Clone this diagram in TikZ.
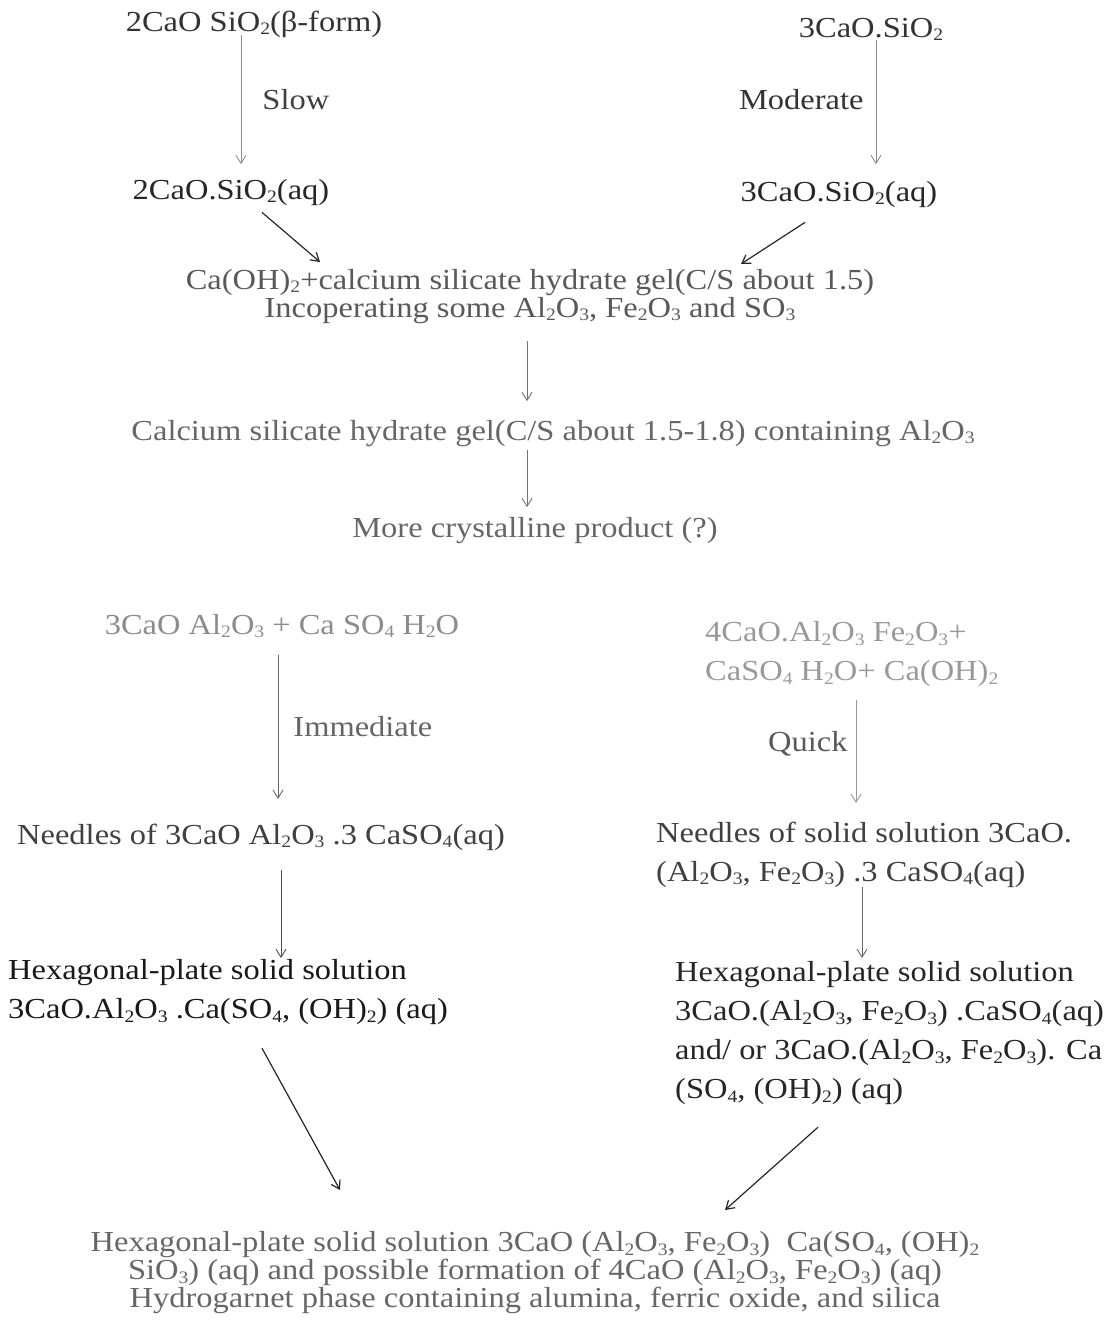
\documentclass[tikz,border=0pt]{standalone}
\usepackage{fontspec}
\setmainfont{Liberation Serif}[FakeStretch=1.12]
\usepackage{tikz}
\usetikzlibrary{arrows.meta,positioning}

\newcommand{\low}[1]{\raisebox{-3.5pt}{\fontsize{17.5}{17.5}\selectfont #1}}

\begin{document}
\begin{tikzpicture}[x=1pt,y=-1pt,>={Straight Barb[length=8pt,width=10pt]}]
	\useasboundingbox (0,0) rectangle (1113,1320);
	\tikzset{every node/.style={inner sep=0pt,font=\fontsize{29}{28}\selectfont}}
	\tikzset{wide/.style={font=\fontsize{29}{39}\selectfont}}
	\tikzset{flow/.style={->,draw=black!45,line width=0.9pt}}
	\tikzset{react/.style={->,draw=black!85,line width=1.2pt}}
	
	% silicates
	\node[anchor=base,text=black!80] (c2s) at (254,31) {2CaO SiO\low{2}(β-form)};
	\node[anchor=base,text=black!80] (c3s) at (871,37) {3CaO.SiO\low{2}};
	\node[anchor=base,text=black!85] (c2saq) at (231,199) {2CaO.SiO\low{2}(aq)};
	\node[anchor=base,text=black!85] (c3saq) at (839,201) {3CaO.SiO\low{2}(aq)};
	\node[anchor=north,align=center,text=black!65] (gel) at (530,269) {Ca(OH)\low{2}+calcium silicate hydrate gel(C/S about 1.5)\\Incoperating some Al\low{2}O\low{3}, Fe\low{2}O\low{3} and SO\low{3}};
	\node[anchor=base,text=black!60] (csh) at (553,440) {Calcium silicate hydrate gel(C/S about 1.5-1.8) containing Al\low{2}O\low{3}};
	\node[anchor=base,text=black!60] (more) at (535,537) {More crystalline product (?)};
	
	% aluminates
	\node[anchor=base,text=black!45] (c3a) at (282,634) {3CaO Al\low{2}O\low{3} + Ca SO\low{4} H\low{2}O};
	\node[anchor=north west,align=left,wide,text=black!40] (c4af) at (705,621.5) {4CaO.Al\low{2}O\low{3} Fe\low{2}O\low{3}+\\CaSO\low{4} H\low{2}O+ Ca(OH)\low{2}};
	\node[anchor=base,text=black!75] (ettr) at (261,844) {Needles of 3CaO Al\low{2}O\low{3} .3 CaSO\low{4}(aq)};
	\node[anchor=north west,align=left,wide,text=black!75] (ssettr) at (656,821.5) {Needles of solid solution 3CaO.\\(Al\low{2}O\low{3}, Fe\low{2}O\low{3}) .3 CaSO\low{4}(aq)};
	\node[anchor=north west,align=left,wide,text=black!90] (hexl) at (8,959.5) {Hexagonal-plate solid solution\\3CaO.Al\low{2}O\low{3} .Ca(SO\low{4}, (OH)\low{2}) (aq)};
	\node[anchor=north west,align=left,wide,text=black!85] (hexr) at (675,961.5) {Hexagonal-plate solid solution\\3CaO.(Al\low{2}O\low{3}, Fe\low{2}O\low{3}) .CaSO\low{4}(aq)\\and/ or 3CaO.(Al\low{2}O\low{3}, Fe\low{2}O\low{3}). Ca\\(SO\low{4}, (OH)\low{2}) (aq)};
	\node[anchor=north,align=center,text=black!60] (bot) at (535,1231.5) {Hexagonal-plate solid solution 3CaO (Al\low{2}O\low{3}, Fe\low{2}O\low{3})\ \ Ca(SO\low{4}, (OH)\low{2}\\SiO\low{3}) (aq) and possible formation of 4CaO (Al\low{2}O\low{3}, Fe\low{2}O\low{3}) (aq)\\Hydrogarnet phase containing alumina, ferric oxide, and silica};
	
	\path
	([xshift=-13pt,yshift=2pt]c2s.south) edge[flow] node[anchor=west,xshift=21pt,text=black!75] {Slow} ([xshift=10pt,yshift=14.5pt]c2saq.north)
	([xshift=5pt,yshift=1pt]c3s.south) edge[flow] node[pos=.48,anchor=east,xshift=-12pt,text=black!80] {Moderate} ([xshift=37pt,yshift=16.5pt]c3saq.north)
	([xshift=31pt,yshift=-7pt]c2saq.south) edge[react] ([xshift=-210pt,yshift=7pt]gel.north)
	([xshift=-34pt,yshift=-15pt]c3saq.south) edge[react] ([xshift=211pt,yshift=5pt]gel.north)
	([xshift=-3pt,yshift=-17pt]gel.south) edge[flow,draw=black!55] ([xshift=-26pt,yshift=18.5pt]csh.north)
	([xshift=-26pt,yshift=-4pt]csh.south) edge[flow,draw=black!55] ([xshift=-8pt,yshift=9.5pt]more.north);
	
	\path
	([xshift=-4pt,yshift=-17pt]c3a.south) edge[flow,draw=black!60] node[anchor=west,xshift=15pt,text=black!60] {Immediate} ([xshift=17pt,yshift=24.5pt]ettr.north)
	([xshift=151pt,yshift=-13pt]c4af.south west) edge[flow,draw=black!40] node[pos=.42,anchor=east,xshift=-8pt,text=black!65] {Quick} ([xshift=200pt,yshift=18.5pt]ssettr.north west)
	([xshift=20pt,yshift=-20pt]ettr.south) edge[flow,draw=black!70] ([xshift=273pt,yshift=1.5pt]hexl.north west)
	([xshift=206pt,yshift=1pt]ssettr.south west) edge[flow,draw=black!60] ([xshift=187pt,yshift=3.5pt]hexr.north west)
	([xshift=254pt,yshift=-23pt]hexl.south west) edge[react] ([xshift=-195pt,yshift=41.5pt]bot.north)
	([xshift=143pt,yshift=-22pt]hexr.south west) edge[react] ([xshift=190pt,yshift=21.5pt]bot.north);
\end{tikzpicture}
\end{document}
